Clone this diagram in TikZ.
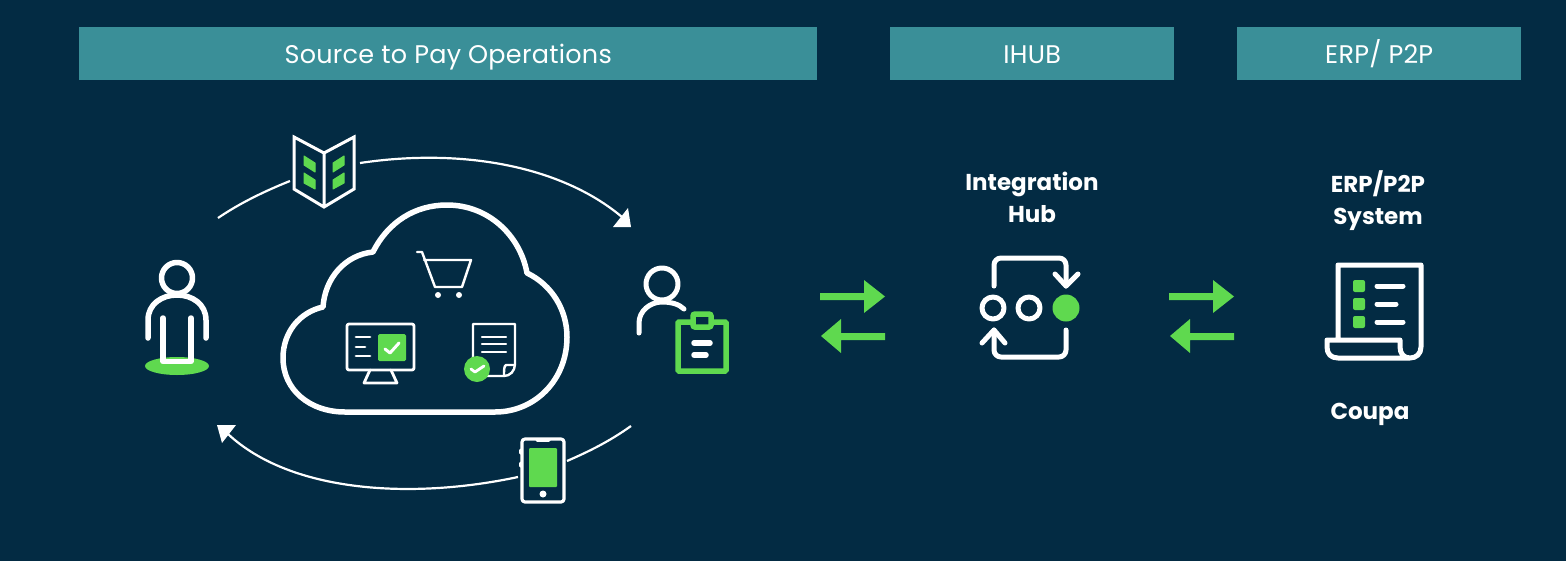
\documentclass[tikz,border=0pt]{standalone}
\usepackage{fontspec}
\setmainfont{Poppins}
\usetikzlibrary{arrows.meta}
\definecolor{bgc}{HTML}{032B43}
\definecolor{teal}{HTML}{3A8F98}
\definecolor{grn}{HTML}{5FD94F}
\tikzset{
  head/.style={fill=teal,text=white,minimum height=53pt,inner sep=0pt,text height=19pt,text depth=0pt,font=\fontsize{25.5}{28}\selectfont\addfontfeatures{LetterSpace=1.0},anchor=north west},
  lab/.style={text=white,font=\bfseries\fontsize{23}{28}\selectfont,inner sep=0pt,anchor=base},
  wl/.style={draw=white,line cap=round,line join=round},
  flow/.style={draw=white,line width=2.2pt},
  tiptri/.style={fill=white,draw=none}
}
\begin{document}
\begin{tikzpicture}[x=1pt,y=-1pt]
\useasboundingbox (0,0) rectangle (1566,560);
\fill[bgc] (-3,-3) rectangle (1569,563);
% headers
\node[head,minimum width=738pt] (h1) at (79,27) {Source to Pay Operations};
\node[head,minimum width=284pt] (h2) at (890,27) {IHUB};
\node[head,minimum width=284pt] (h3) at (1237,27) {ERP/ P2P};
% flow arcs
\coordinate (a1) at (218,218); \coordinate (a2) at (290,181);
\coordinate (a3) at (360,163); \coordinate (a4) at (622,217);
\coordinate (b1) at (631,426); \coordinate (b2) at (567,461);
\coordinate (b3) at (518,477); \coordinate (b4) at (228,434);
\draw[flow] (a1) .. controls (240,203) and (265,191) .. (a2);
\draw[flow] (a3) .. controls (460,148) and (560,165) .. (a4);
\fill[tiptri] (628,208) -- (631,227) -- (613,227) -- cycle;
\draw[flow] (b1) .. controls (610,441) and (590,451) .. (b2);
\draw[flow] (b3) .. controls (410,500) and (290,492) .. (b4);
\fill[tiptri] (217,425) -- (236,425) -- (222,443) -- cycle;
% person 1
\fill[grn] (177,366) ellipse (32 and 9);
\draw[wl,line width=5.5pt] (177,278) circle (15.5);
\draw[wl,line width=5.5pt] (148,338) -- (148,320) .. controls (148,304) and (162,295) .. (177,295) .. controls (192,295) and (206,304) .. (206,320) -- (206,338);
\draw[wl,line width=5.5pt] (163,318) -- (163,361.5) -- (191,361.5) -- (191,318);
% book
\draw[wl,line width=3pt,line join=miter] (294,137) -- (324,153) -- (354,137) -- (354,189) -- (324,207) -- (294,189) -- cycle (324,153) -- (324,207);
\fill[grn,draw=grn,line width=1pt,line join=round] (304,156) -- (315,163) -- (315,172) -- (304,165) -- cycle;
\fill[grn,draw=grn,line width=1pt,line join=round] (304,173) -- (315,180) -- (315,189) -- (304,183) -- cycle;
\fill[grn,draw=grn,line width=1pt,line join=round] (333,163) -- (344,156) -- (344,165) -- (333,172) -- cycle;
\fill[grn,draw=grn,line width=1pt,line join=round] (333,180) -- (344,173) -- (344,183) -- (333,189) -- cycle;
% cloud
\draw[draw=white,line width=5.5pt,line join=round] (373,252) .. controls (388,222) and (415,205) .. (447,205)
  .. controls (488,205) and (520,235) .. (527,273)
  .. controls (552,285) and (567,310) .. (567,337)
  .. controls (567,380) and (535,412) .. (495,412)
  -- (345,412)
  .. controls (310,412) and (283,390) .. (283,358)
  .. controls (283,332) and (300,312) .. (323,307)
  .. controls (325,278) and (345,255) .. (373,252) -- cycle;
% cart
\draw[wl,line width=2.4pt] (417,252) -- (422,252) -- (435,287) -- (462,287) -- (471,260) -- (424,260);
\fill[white] (438,295) circle (3) (459,295) circle (3);
% monitor
\draw[wl,line width=2.8pt,rounded corners=2pt] (347,324) rectangle (414,370);
\draw[wl,line width=2.8pt] (370,370) -- (364,383) -- (397,383) -- (391,370);
\draw[wl,line width=2.8pt] (356,337) -- (370,337) (356,347) -- (365,347) (356,356) -- (370,356);
\fill[grn,rounded corners=1.5pt] (378,334) rectangle (406,361);
\draw[wl,line width=3pt] (385,349) -- (390,353) -- (399,343);
% document
\draw[wl,line width=2.4pt] (473,376) -- (473,324) -- (515,324) -- (515,364) .. controls (515,371) and (510,376) .. (504,376) -- cycle;
\draw[wl,line width=2.4pt] (504,376) .. controls (504,370) and (504,366) .. (506,365) -- (515,365);
\draw[wl,line width=2.4pt] (482,337) -- (506,337) (482,344) -- (506,344) (482,352) -- (506,352);
\fill[grn] (477,369) circle (13);
\draw[wl,line width=2.8pt] (471,369) -- (475,372) -- (484,366);
% person 2
\draw[wl,line width=5pt] (662,284) circle (16);
\draw[wl,line width=5pt] (639,333) -- (639,323) .. controls (639,311) and (650,302) .. (662,302) .. controls (671,302) and (679,304) .. (684,309);
\draw[draw=grn,line width=5.5pt,rounded corners=1pt] (678,322) rectangle (726,371);
\draw[draw=grn,fill=bgc,line width=5.5pt,rounded corners=2pt] (693,314) rectangle (711,327);
\draw[wl,line width=5.5pt] (694,343) -- (710,343) (694,355) -- (706,355);
% phone
\draw[wl,line width=3.2pt,rounded corners=3pt] (522,439) rectangle (564,502);
\draw[wl,line width=3pt] (537,440) -- (549,440);
\fill[grn,rounded corners=1pt] (529,448) rectangle (557,487);
\fill[white] (543,494) circle (3.5);
\draw[wl,line width=3pt] (520,450) -- (520,453) (520,463) -- (520,466);
% green arrows
\foreach \dx in {0,349}{
  \fill[grn,xshift=\dx pt] (820,293) -- (864,293) -- (864,280) -- (885,296.5) -- (864,313) -- (864,300) -- (820,300) -- cycle;
  \fill[grn,xshift=\dx pt] (885,333) -- (841,333) -- (841,319) -- (821,336) -- (841,353) -- (841,340) -- (885,340) -- cycle;
}
% hub labels
\node[lab] (t1) at (1032,190) {Integration};
\node[lab] (t2) at (1032,222) {Hub};
% hub icon
\draw[wl,line width=5pt,rounded corners=7pt] (994,286) -- (994,258) -- (1066,258) -- (1066,286);
\draw[wl,line width=5pt] (1055,274) -- (1066,286) -- (1078,274);
\draw[wl,line width=5pt] (993,308) circle (11) (1029,308) circle (11);
\fill[grn] (1066,308) circle (13.5);
\draw[wl,line width=5pt,rounded corners=7pt] (1066,330) -- (1066,357) -- (994,357) -- (994,330);
\draw[wl,line width=5pt] (982,343) -- (994,330) -- (1005,343);
% erp labels
\node[lab] (t3) at (1378,192) {ERP/P2P};
\node[lab] (t4) at (1378,224) {System};
\node[lab] (t5) at (1370,419) {Coupa};
% erp icon
\draw[wl,line width=5pt] (1338,340) -- (1338,265) -- (1421,265) -- (1421,347) .. controls (1421,354) and (1416,358) .. (1410,358) .. controls (1404,358) and (1400,354) .. (1400,347) -- (1400,340) -- (1327,340) -- (1327,347) .. controls (1327,354) and (1331,358) .. (1338,358) -- (1410,358);
\fill[grn,rounded corners=2pt] (1353,280) rectangle (1365,292) (1353,298) rectangle (1365,310) (1353,316) rectangle (1365,328);
\draw[wl,line width=5pt] (1377,286) -- (1403,286) (1377,304) -- (1396,304) (1377,322) -- (1403,322);
\end{tikzpicture}
\end{document}
